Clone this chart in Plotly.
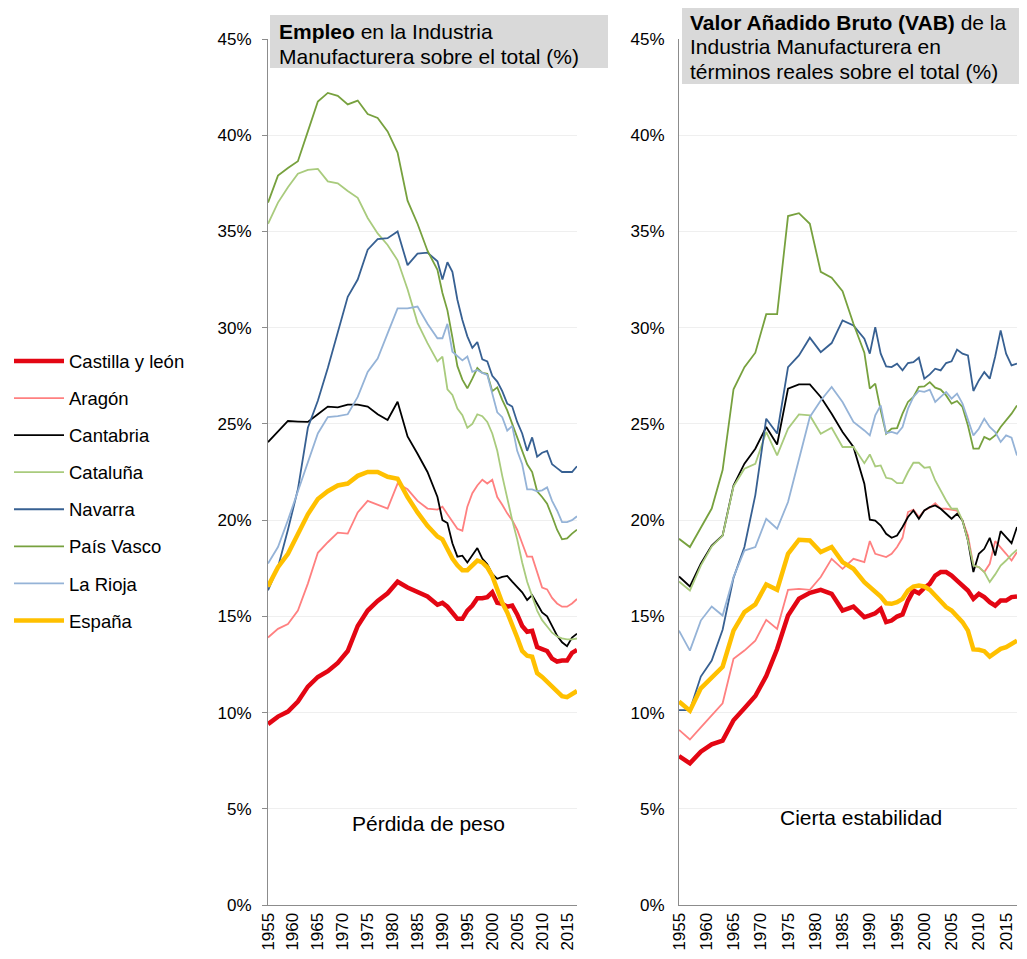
import plotly.graph_objects as go

# ---------------- DATA ----------------
# Years: biennial 1955-1989, annual 1990-2017
YEARS = [1955, 1957, 1959, 1961, 1963, 1965, 1967, 1969, 1971, 1973, 1975, 1977, 1979,
         1981, 1983, 1985, 1987, 1989] + list(range(1990, 2018))

REGIONS = ["Castilla y león", "Aragón", "Cantabria", "Cataluña", "Navarra",
           "País Vasco", "La Rioja", "España"]

# Employment share of manufacturing (%)
emp_castilla = [9.4, 9.79, 10.05, 10.57, 11.35, 11.85, 12.15, 12.58, 13.2, 14.5, 15.3, 15.8, 16.2,
                16.8, 16.5, 16.25, 16.03, 15.6,
                15.7, 15.5, 15.2, 14.87, 14.87, 15.3, 15.56, 15.94, 15.94, 16.0, 16.25, 15.7, 15.65,
                15.5, 15.56, 15.1, 14.5, 14.2, 14.25, 13.4, 13.3, 13.2, 12.8, 12.65, 12.7, 12.7, 13.1, 13.25]
emp_aragon = [13.9, 14.35, 14.6, 15.3, 16.7, 18.3, 18.85, 19.35, 19.3, 20.4, 21.0, 20.8, 20.6,
              21.9, 21.6, 21.0, 20.6, 20.55,
              20.7, 20.3, 19.9, 19.55, 19.45, 20.7, 21.4, 21.8, 22.1, 21.9, 22.1, 21.2, 20.8,
              20.35, 20.0, 19.5, 18.8, 18.1, 18.1, 17.35, 16.5, 16.4, 15.96, 15.67, 15.5, 15.5, 15.67, 15.9]
emp_cantabria = [24.05, 24.6, 25.15, 25.12, 25.1, 25.5, 25.9, 25.86, 26.0, 26.0, 25.9, 25.5, 25.2,
                 26.15, 24.35, 23.45, 22.5, 21.2,
                 20.0, 19.85, 18.8, 18.1, 18.15, 17.8, 18.15, 18.55, 18.0, 17.7, 17.2, 16.95, 17.05,
                 17.1, 16.8, 16.5, 16.25, 15.85, 16.1, 15.65, 15.2, 15.0, 14.5, 14.0, 13.65, 13.45, 13.9, 14.1]
emp_cataluna = [35.4, 36.5, 37.3, 38.0, 38.2, 38.25, 37.6, 37.5, 37.1, 36.75, 35.7, 34.9, 34.3,
                33.5, 32.0, 30.25, 29.2, 28.25,
                28.5, 26.8, 26.5, 25.8, 25.45, 24.8, 25.0, 25.5, 25.4, 25.1, 24.5, 23.6, 22.3,
                21.1, 20.0, 19.0, 17.8, 16.8, 16.0, 15.3, 14.8, 14.45, 14.15, 13.95, 13.85, 13.8, 13.8, 13.85]
emp_navarra = [16.35, 17.55, 19.5, 21.6, 24.8, 26.2, 27.9, 29.7, 31.6, 32.5, 34.05, 34.6, 34.65,
               35.0, 33.25, 33.85, 33.9, 33.45,
               32.5, 33.4, 32.9, 31.45, 30.4, 29.55, 28.95, 29.25, 28.35, 28.25, 27.5, 27.2, 26.7,
               26.05, 25.9, 25.1, 24.5, 23.6, 24.3, 23.3, 23.5, 23.6, 22.9, 22.7, 22.5, 22.5, 22.5, 22.8]
emp_pvasco = [36.5, 37.9, 38.3, 38.65, 40.2, 41.75, 42.2, 42.05, 41.6, 41.8, 41.1, 40.9, 40.2,
              39.1, 36.6, 35.4, 34.0, 33.0,
              31.8, 30.9, 29.5, 28.0, 27.3, 26.85, 27.35, 27.9, 27.65, 27.6, 26.7, 26.9, 26.25,
              25.7, 25.0, 24.3, 23.6, 22.9, 22.5, 21.5, 21.2, 20.85, 20.2, 19.5, 19.0, 19.05, 19.3, 19.5]
emp_rioja = [17.75, 18.6, 20.0, 21.5, 22.9, 24.5, 25.35, 25.4, 25.5, 26.4, 27.7, 28.4, 29.7,
             31.0, 31.0, 31.1, 30.2, 29.45,
             29.45, 30.2, 28.75, 28.5, 28.3, 28.5, 27.7, 27.8, 27.65, 27.55, 26.5, 25.6, 25.35,
             24.65, 24.9, 23.6, 22.9, 21.6, 21.6, 21.5, 21.55, 21.7, 21.0, 20.5, 19.9, 19.9, 20.0, 20.2]
emp_espana = [16.55, 17.55, 18.25, 19.3, 20.3, 21.1, 21.5, 21.8, 21.9, 22.3, 22.5, 22.5, 22.25,
              22.15, 21.2, 20.4, 19.7, 19.15,
              19.0, 18.5, 18.0, 17.65, 17.4, 17.4, 17.65, 17.9, 17.8, 17.55, 17.1, 16.35, 15.7,
              15.2, 14.6, 13.9, 13.2, 12.95, 12.9, 12.05, 11.85, 11.6, 11.3, 11.05, 10.85, 10.8, 10.95, 11.12]

# Real GVA share of manufacturing (%)
vab_castilla = [7.74, 7.36, 7.97, 8.35, 8.54, 9.6, 10.22, 10.86, 11.9, 13.3, 15.04, 15.91, 16.22,
                16.38, 16.17, 15.3, 15.51, 14.96,
                15.05, 15.16, 15.39, 14.7, 14.78, 14.99, 15.1, 15.82, 16.34, 16.2, 16.48, 16.69, 17.12,
                17.3, 17.3, 17.12, 16.86, 16.6, 16.34, 15.91, 16.17, 16.0, 15.74, 15.56, 15.82, 15.82, 16.0, 16.03]
vab_aragon = [9.1, 8.6, 9.23, 9.84, 10.48, 12.8, 13.22, 13.74, 14.82, 14.35, 16.38, 16.43, 16.38,
              17.04, 17.99, 17.47, 17.99, 17.82,
              18.91, 18.25, 18.16, 18.08, 18.25, 18.6, 19.08, 20.42, 20.54, 20.16, 20.5, 20.64, 20.88,
              20.59, 20.59, 20.54, 20.5, 19.98, 19.2, 17.64, 17.56, 17.3, 17.73, 18.91, 18.6, 18.25, 17.9, 18.34]
vab_cantabria = [17.07, 16.55, 17.73, 18.68, 19.2, 21.8, 22.93, 23.71, 24.84, 23.93, 26.83, 27.05, 27.05,
                 26.4, 25.53, 24.58, 23.8, 21.89,
                 20.02, 19.98, 19.72, 19.29, 19.08, 19.2, 19.64, 20.16, 20.5, 20.07, 20.5, 20.68, 20.76,
                 20.59, 20.33, 20.07, 20.33, 19.98, 18.94, 17.3, 18.25, 18.51, 19.08, 18.16, 19.43, 19.12, 18.8, 19.64]
vab_cataluna = [16.81, 16.34, 17.64, 18.63, 19.2, 21.75, 22.67, 22.93, 24.58, 23.36, 24.75, 25.49, 25.44,
                24.49, 24.8, 23.8, 23.8, 22.96,
                23.41, 22.79, 22.84, 22.2, 22.15, 21.92, 21.92, 22.5, 22.98, 22.98, 22.72, 22.76, 22.06,
                21.54, 21.02, 20.59, 20.59, 19.98, 18.94, 17.64, 17.56, 17.3, 16.78, 17.18, 17.64, 17.9, 18.21, 18.46]
vab_navarra = [10.13, 10.13, 11.87, 12.7, 14.3, 17.0, 18.6, 21.3, 25.27, 24.5, 27.95, 28.56, 29.48,
               28.73, 29.2, 30.38, 30.12, 29.43,
               28.65, 30.03, 28.65, 27.99, 27.95, 28.13, 27.78, 28.16, 28.21, 28.44, 27.35, 27.57, 27.87,
               27.78, 28.16, 28.25, 28.86, 28.65, 28.56, 26.71, 27.26, 27.69, 27.35, 28.5, 29.86, 28.65, 28.04, 28.13]
vab_pvasco = [19.03, 18.6, 19.6, 20.6, 22.6, 26.8, 27.95, 28.7, 30.7, 30.7, 35.8, 35.95, 35.4,
              32.9, 32.6, 31.9, 30.2, 28.7,
              26.83, 27.09, 25.7, 24.49, 24.75, 24.78, 25.53, 26.14, 26.4, 26.92, 26.95, 27.17, 26.88,
              26.78, 26.48, 26.05, 26.19, 25.88, 24.92, 23.71, 23.71, 24.32, 24.18, 24.4, 24.84, 25.18, 25.53, 25.96]
vab_rioja = [14.26, 13.22, 14.78, 15.51, 15.04, 17.04, 18.42, 18.6, 20.07, 19.55, 20.94, 23.1, 25.36,
             26.22, 26.92, 26.14, 25.1, 24.66,
             24.4, 25.44, 25.96, 24.52, 24.58, 24.49, 24.84, 25.79, 26.4, 26.71, 26.66, 26.78, 26.14,
             26.4, 26.66, 26.31, 26.57, 26.05, 25.27, 24.4, 24.75, 25.27, 24.84, 24.58, 24.06, 24.4, 24.28, 23.36]
vab_espana = [10.57, 10.1, 11.26, 11.8, 12.38, 14.26, 15.22, 15.62, 16.66, 16.38, 18.25, 18.98, 18.94,
              18.34, 18.6, 17.82, 17.47, 16.78,
              16.52, 16.34, 16.03, 15.68, 15.65, 15.74, 15.91, 16.34, 16.55, 16.6, 16.55, 16.38, 16.08,
              15.82, 15.48, 15.3, 14.96, 14.7, 14.26, 13.28, 13.26, 13.19, 12.91, 13.08, 13.31, 13.4, 13.57, 13.74]

EMP = [emp_castilla, emp_aragon, emp_cantabria, emp_cataluna, emp_navarra, emp_pvasco, emp_rioja, emp_espana]
VAB = [vab_castilla, vab_aragon, vab_cantabria, vab_cataluna, vab_navarra, vab_pvasco, vab_rioja, vab_espana]

X_TICKS = list(range(1955, 2016, 5))
Y_TICKS = list(range(0, 46, 5))
Y_TICKTEXT = [f"{v}%" for v in Y_TICKS]

# ---------------- STYLE ----------------
COLORS = ["#E30613", "#FF8080", "#000000", "#A9CB7D", "#376092", "#77A13E", "#95B3D7", "#FFC000"]
WIDTHS = [4.5, 1.8, 1.8, 1.8, 1.8, 1.8, 1.8, 4.5]
FONT = "Liberation Sans, Arial, sans-serif"

# The page body has a default 8px margin; size the figure so it fits the window
OFF = 8
W, H = 1027 - 2 * OFF, 959 - 2 * OFF


def px(x):
    """screen x (pixels) -> paper fraction"""
    return (x - OFF) / W


def py(y):
    """screen y (pixels from top) -> paper fraction"""
    return 1 - (y - OFF) / H


fig = go.Figure()
for i, name in enumerate(REGIONS):
    fig.add_trace(go.Scatter(x=YEARS, y=EMP[i], name=name, mode="lines",
                             line=dict(color=COLORS[i], width=WIDTHS[i]),
                             legendgroup=name, xaxis="x", yaxis="y"))
for i, name in enumerate(REGIONS):
    fig.add_trace(go.Scatter(x=YEARS, y=VAB[i], name=name, mode="lines",
                             line=dict(color=COLORS[i], width=WIDTHS[i]),
                             legendgroup=name, showlegend=False, xaxis="x2", yaxis="y2"))

AX_LINE = "#8C8C8C"
ydom = [py(905), py(39)]
common_x = dict(range=[1955, 2017], tickvals=X_TICKS, tickangle=-90, showgrid=False,
                showline=True, linecolor=AX_LINE, linewidth=1, ticks="", zeroline=False,
                automargin=False,
                tickfont=dict(size=17, color="#000000", family=FONT))
common_y = dict(range=[0, 45], tickvals=Y_TICKS, ticktext=Y_TICKTEXT, showgrid=True,
                gridcolor="#EFEFEF", gridwidth=1, showline=True, linecolor=AX_LINE,
                linewidth=1, zeroline=False, domain=ydom, automargin=False,
                tickfont=dict(size=17, color="#000000", family=FONT))

fig.update_layout(
    width=W, height=H,
    margin=dict(l=0, r=0, t=0, b=0, pad=0, autoexpand=False),
    paper_bgcolor="white", plot_bgcolor="white",
    font=dict(family=FONT, color="#000000"),
    xaxis=dict(domain=[px(268), px(577)], anchor="y", **common_x),
    xaxis2=dict(domain=[px(679), px(1017)], anchor="y2", **common_x),
    yaxis=dict(anchor="x", ticks="outside", ticklen=5, tickcolor=AX_LINE,
               ticklabelstandoff=7, **common_y),
    yaxis2=dict(anchor="x2", ticks="", ticklabelstandoff=10, **common_y),
    legend=dict(x=px(9), y=py(491), xanchor="left", yanchor="middle",
                font=dict(size=18.5, family=FONT, color="#000000"),
                tracegroupgap=10, itemwidth=50, bgcolor="rgba(0,0,0,0)"),
    showlegend=True,
)

# Title boxes
fig.add_shape(type="rect", xref="paper", yref="paper", x0=px(270), x1=px(608),
              y0=py(68), y1=py(15), fillcolor="#D9D9D9", line=dict(width=0), layer="below")
fig.add_shape(type="rect", xref="paper", yref="paper", x0=px(682), x1=px(1022),
              y0=py(84), y1=py(5), fillcolor="#D9D9D9", line=dict(width=0), layer="below")

title_lines = [
    (277, 32, "<b>Empleo</b> en la Industria"),
    (277, 56, "Manufacturera sobre el total (%)"),
    (688, 22, "<b>Valor Añadido Bruto (VAB)</b> de la"),
    (688, 47, "Industria Manufacturera en"),
    (688, 72, "términos reales sobre el total (%)"),
]
for x0, y0, txt in title_lines:
    fig.add_annotation(xref="paper", yref="paper", x=px(x0), y=py(y0), text=txt,
                       showarrow=False, xanchor="left", yanchor="middle",
                       font=dict(size=21, family=FONT, color="#000000"))

fig.add_annotation(xref="paper", yref="paper", x=px(428), y=py(823), text="Pérdida de peso",
                   showarrow=False, xanchor="center", yanchor="middle",
                   font=dict(size=21, family=FONT, color="#000000"))
fig.add_annotation(xref="paper", yref="paper", x=px(861), y=py(817), text="Cierta estabilidad",
                   showarrow=False, xanchor="center", yanchor="middle",
                   font=dict(size=21, family=FONT, color="#000000"))

fig.write_html("out.html")
